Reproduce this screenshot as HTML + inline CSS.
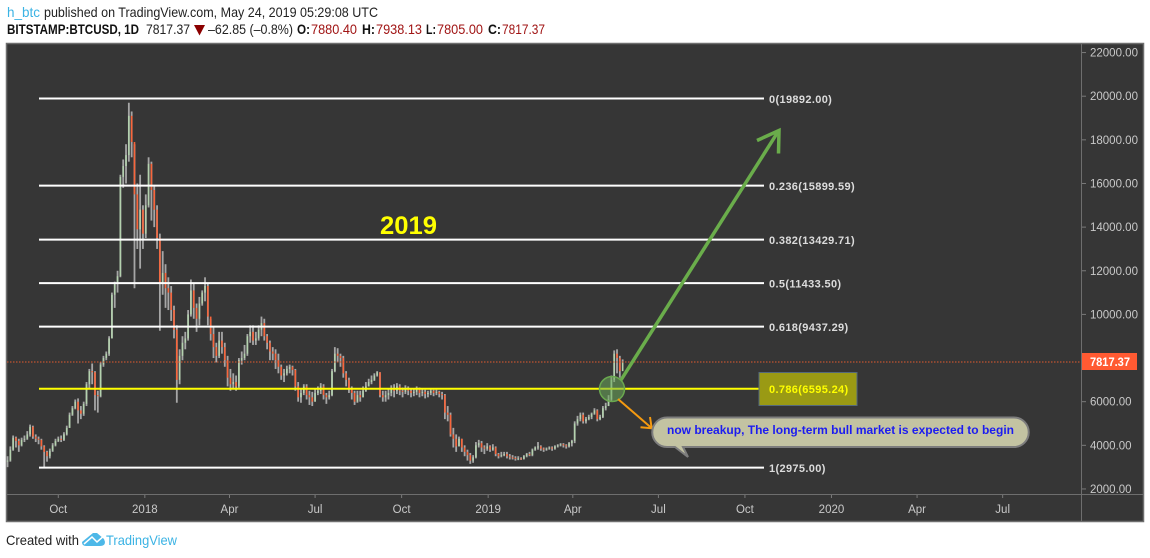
<!DOCTYPE html>
<html lang="en">
<head>
<meta charset="utf-8">
<title>BTCUSD chart</title>
<style>
html,body{margin:0;padding:0;background:#fff;width:1150px;height:558px;overflow:hidden}
svg{display:block;font-family:"Liberation Sans",sans-serif}
</style>
</head>
<body>
<svg id="chart" xmlns="http://www.w3.org/2000/svg" width="1150" height="558" viewBox="0 0 1150 558">
  <defs>
    <filter id="soft" x="-5%" y="-5%" width="110%" height="110%"><feGaussianBlur stdDeviation="0.35"/></filter>
  </defs>
  <text x="7" y="17" font-size="14" fill="#3bb3e4" textLength="33" lengthAdjust="spacingAndGlyphs">h_btc</text>
  <text x="44" y="17" font-size="14" fill="#222" textLength="334" lengthAdjust="spacingAndGlyphs">published on TradingView.com, May 24, 2019 05:29:08 UTC</text>
  <text x="7" y="34" font-size="13.5" font-weight="bold" fill="#111" textLength="132" lengthAdjust="spacingAndGlyphs">BITSTAMP:BTCUSD, 1D</text>
  <text x="146" y="34" font-size="14" fill="#222" textLength="44" lengthAdjust="spacingAndGlyphs">7817.37</text>
  <polygon points="194,25 205,25 199.5,35.500" fill="#8b0000"/>
  <text x="208" y="34" font-size="14" fill="#222" textLength="85" lengthAdjust="spacingAndGlyphs">–62.85 (–0.8%)</text>
  <text x="297" y="34" font-size="13.5" font-weight="bold" fill="#111" textLength="13" lengthAdjust="spacingAndGlyphs">O:</text>
  <text x="311" y="34" font-size="14" fill="#a01414" textLength="46" lengthAdjust="spacingAndGlyphs">7880.40</text>
  <text x="362" y="34" font-size="13.5" font-weight="bold" fill="#111" textLength="13" lengthAdjust="spacingAndGlyphs">H:</text>
  <text x="376" y="34" font-size="14" fill="#a01414" textLength="46" lengthAdjust="spacingAndGlyphs">7938.13</text>
  <text x="426" y="34" font-size="13.5" font-weight="bold" fill="#111" textLength="10" lengthAdjust="spacingAndGlyphs">L:</text>
  <text x="437" y="34" font-size="14" fill="#a01414" textLength="46" lengthAdjust="spacingAndGlyphs">7805.00</text>
  <text x="488" y="34" font-size="13.5" font-weight="bold" fill="#111" textLength="13" lengthAdjust="spacingAndGlyphs">C:</text>
  <text x="502" y="34" font-size="14" fill="#a01414" textLength="43" lengthAdjust="spacingAndGlyphs">7817.37</text>

  <rect x="6.500" y="43.500" width="1137" height="478" fill="#363636" stroke="#6e6e6e" stroke-width="1.500"/>
  <line x1="1081.500" y1="44" x2="1081.500" y2="521" stroke="#6e6e6e" stroke-width="1"/>
  <line x1="7" y1="494.500" x2="1143" y2="494.500" stroke="#6e6e6e" stroke-width="1"/>

  <g id="axes"></g>
  <g id="candles" filter="url(#soft)"></g>
  <line id="lastLine" x1="7" x2="1081" stroke="#e2592f" stroke-width="1" stroke-dasharray="1.500 1.500"/>
  <g id="fibs"></g>

  <rect x="759" y="372.500" width="98" height="33" fill="#9a9a14" stroke="#54697c" stroke-width="1"/>
  <g id="fibLabels"></g>

  <text x="380" y="234" font-size="25" font-weight="bold" fill="#ffff00" textLength="57" lengthAdjust="spacingAndGlyphs">2019</text>

  <g fill="none" stroke="#6aad4b" stroke-width="3.500">
    <line x1="621" y1="380" x2="778.500" y2="131"/>
    <polyline points="757,140.500 779,130.500 778.500,153.500"/>
  </g>
  <circle cx="612" cy="389" r="12.500" fill="rgba(108,170,90,.55)" stroke="#6aa84f" stroke-width="1.500"/>
  <g fill="none" stroke="#f59a10" stroke-width="2">
    <line x1="618" y1="399" x2="651.500" y2="428"/>
    <polyline points="640.500,427.300 651.700,428.300 650,417"/>
  </g>
  <path d="M667 417.500 H1014 A14.750 14.750 0 0 1 1014 447 H683 L688 457 L675 447 H667 A14.750 14.750 0 0 1 667 417.500 Z" fill="#c3c3a2" stroke="#7d7d7d" stroke-width="2"/>
  <text x="667" y="434" font-size="12" font-weight="bold" fill="#1c1cf0" textLength="347" lengthAdjust="spacingAndGlyphs">now breakup, The long-term bull market is expected to begin</text>

  <rect id="lastTag" x="1082" y="353" width="55" height="17" fill="#ff5a32"/>
  <text id="lastTagText" x="1090" y="366" font-size="12" font-weight="bold" fill="#fff" textLength="40" lengthAdjust="spacingAndGlyphs">7817.37</text>

  <text x="6" y="545" font-size="14" fill="#222" textLength="73" lengthAdjust="spacingAndGlyphs">Created with</text>
  <path d="M82 542 L93 533 L97 533 L104 539 L105 542 Q105 546 100 546 L86 546 Q82 546 82 542 Z" fill="#4db8e8"/>
  <polyline points="84,544 92,537 97,542 105,535" fill="none" stroke="#fff" stroke-width="1.500"/>
  <text x="106" y="545" font-size="14" fill="#3bb3e4" textLength="71" lengthAdjust="spacingAndGlyphs">TradingView</text>
</svg>
<script>
var priceTicks = [22000,20000,18000,16000,14000,12000,10000,8000,6000,4000,2000];
var priceTickLabels = ["22000.00","20000.00","18000.00","16000.00","14000.00","12000.00","10000.00","8000.00","6000.00","4000.00","2000.00"];
var timeTickDays = [0,92,182,273,365,457,547,638,730,822,913,1004];
var timeTickLabels = ["Oct","2018","Apr","Jul","Oct","2019","Apr","Jul","Oct","2020","Apr","Jul"];
var fibRatios = ["0","0.236","0.382","0.5","0.618","0.786","1"];
var fibPrices = [19892.00,15899.59,13429.71,11433.50,9437.29,6595.24,2975.00];
var lastPrice = 7817.37;
var firstBarDay = -54;
var barStepDays = 3;
var firstOpen = 3250;
var closes = [
3300,3800,4350,4200,4000,4250,4300,4500,4850,4400,
4300,4250,3950,3700,3500,3750,4000,4200,4300,4250,
4500,4800,5400,5700,6000,5600,5450,5900,6800,7400,
7350,6300,6250,7700,8000,8200,8900,10900,11400,11750,
16300,16800,17300,19100,17900,15500,13900,14800,13700,15000,
16900,15700,14800,13500,11400,11900,11200,11000,10200,9300,
7000,8100,8700,8900,10000,11100,10300,9800,10500,11000,
11300,9900,9100,8500,8100,8800,8500,7900,7100,6800,
6900,6700,7900,8000,8200,9000,9200,8800,8900,9300,
9600,9000,8700,8300,8200,7900,7600,7200,7300,7500,
7600,7450,6700,6200,6400,6700,6300,6200,6000,6400,
6500,6700,6300,6200,6300,7400,8200,8100,8000,7300,
7000,6600,6400,6000,6300,6200,6500,6700,6900,7000,
7200,7350,6300,6200,6300,6400,6600,6500,6700,6500,
6450,6600,6500,6400,6450,6550,6400,6450,6350,6400,
6500,6400,6450,6350,6300,5500,5400,4500,4300,3950,
4300,3900,3700,3550,3300,3450,4000,4100,3900,3850,
3950,3800,3900,3600,3500,3550,3600,3500,3450,3420,
3380,3400,3380,3500,3600,3550,3800,3900,3950,3850,
3800,3850,3900,3850,3950,4000,4050,4000,3950,4100,
4200,5000,5200,5400,5100,5200,5300,5450,5600,5200,
5300,5700,5800,6100,7000,8200,8000,7400,7817.37];
var highs = [
3500,3950,4450,4400,4300,4350,4450,4650,4950,4900,
4500,4400,4300,4000,3750,3850,4100,4300,4400,4450,
4600,4900,5500,5800,6100,6150,5800,6000,6900,7500,
7750,7400,6500,7800,8100,8300,9000,11000,11500,12000,
16400,17100,17800,19700,19300,17800,16000,16400,15000,15500,
17200,17000,15900,15000,13700,12900,12300,11700,11300,10400,
9500,8400,9000,9200,10200,11600,11400,10500,10800,11100,
11700,11400,9800,9400,8700,9200,9200,8700,8100,7500,
7300,7200,8000,8300,8600,9100,9500,9500,9200,9500,
9900,9800,9100,8800,8500,8400,8200,7700,7500,7650,
7700,7650,7500,6900,6600,6800,6800,6500,6450,6600,
6700,6850,6800,6400,6500,7500,8500,8450,8200,8100,
7400,7100,6700,6500,6500,6500,6700,6900,7050,7200,
7300,7400,7350,6500,6500,6600,6750,6800,6850,6800,
6650,6750,6700,6600,6600,6700,6650,6600,6550,6500,
6600,6550,6550,6500,6450,6350,5800,5500,4800,4500,
4400,4300,4000,3800,3650,3550,4150,4250,4200,4000,
4100,4000,4050,3950,3650,3700,3700,3700,3600,3550,
3500,3500,3450,3550,3650,3700,3850,3950,4150,4000,
3900,3900,3950,3950,4000,4050,4100,4100,4050,4150,
4250,5100,5350,5500,5500,5300,5400,5500,5700,5650,
5400,5800,5950,6300,7200,8350,8400,8100,7938.13];
var lows = [
3000,3250,3750,3900,3700,3950,4150,4250,4400,4300,
4150,4050,3800,2980,3250,3400,3700,3950,4150,4150,
4200,4450,4800,5350,5650,5000,5200,5350,5800,6600,
6800,5600,5500,6200,7600,7900,8100,8900,10300,11000,
11700,15800,16000,17000,17200,11200,13000,12100,13000,13500,
14900,14300,14000,13000,9250,10900,10300,10200,9700,8900,
5950,6800,7900,8400,8800,9900,9800,9200,9500,10400,
10600,9500,8800,8000,7800,8000,8200,7600,6700,6500,
6600,6500,6600,7700,7900,8100,8700,8600,8600,8800,
9000,8800,8400,7900,7900,7500,7300,7000,6900,7200,
7300,7200,6500,6000,5950,6300,6100,5850,5800,6000,
6300,6350,6100,5900,6100,6250,7350,7800,7600,7100,
6700,6400,6100,5850,5950,6000,6200,6450,6700,6800,
6950,7150,6200,6000,6000,6100,6250,6200,6350,6300,
6200,6350,6300,6200,6250,6300,6200,6250,6150,6200,
6300,6250,6300,6200,6100,5200,5100,4400,3900,3700,
3950,3700,3500,3300,3150,3200,3400,3900,3700,3600,
3750,3700,3750,3500,3400,3450,3500,3400,3350,3350,
3300,3320,3330,3350,3450,3500,3500,3750,3800,3750,
3700,3750,3800,3750,3800,3900,3950,3900,3850,3900,
3950,4100,4900,5100,5000,5000,5150,5200,5400,5100,
5150,5250,5600,5800,6000,6900,7300,7100,7805.00];

var NS = 'http://www.w3.org/2000/svg';
function yOf(p){ return 532.6 - p * 0.02182; }
function xOf(d){ return 58.3 + d * 0.9406; }
function mk(tag, parent, attrs){
  var el = document.createElementNS(NS, tag);
  for (var k in attrs) el.setAttribute(k, attrs[k]);
  parent.appendChild(el);
  return el;
}

var axes = document.getElementById('axes');
priceTicks.forEach(function(p, i){
  var y = yOf(p);
  var t = mk('line', axes, {x1:1082, x2:1086, y1:y, y2:y, stroke:'#7a7a7a', 'stroke-width':1});
  
  
  var l = mk('text', axes, {x:1090, y:y+4, 'font-size':11.5, fill:'#c9c9c9'});
  
  
  l.textContent = priceTickLabels[i];
});
timeTickDays.forEach(function(d, i){
  var x = xOf(d);
  var t = mk('line', axes, {x1:x, x2:x, y1:495, y2:498, stroke:'#7a7a7a', 'stroke-width':1});
  
  
  var l = mk('text', axes, {x:x, y:513, 'font-size':11.5, fill:'#c9c9c9', 'text-anchor':'middle'});
  
  
  l.textContent = timeTickLabels[i];
});

var candles = document.getElementById('candles');
closes.forEach(function(c, i){
  var o = i === 0 ? firstOpen : closes[i-1];
  var x = xOf(firstBarDay + i * barStepDays);
  var w = mk('line', candles, {x1:x, x2:x, y1:yOf(highs[i]), y2:yOf(lows[i]), stroke:'#a6a6a6', 'stroke-width':1.800});
  
  
  var top = Math.max(o, c), bot = Math.min(o, c);
  var b = mk('rect', candles, {x:x-0.8, y:yOf(top), width:1.600, height:Math.max(yOf(bot)-yOf(top), 1), fill: c >= o ? '#b4d2ae' : '#f9653a'});
  
  
});

var lastY = yOf(lastPrice);
var lastLine = document.getElementById('lastLine');
lastLine.setAttribute('y1', lastY);
lastLine.setAttribute('y2', lastY);

var fibs = document.getElementById('fibs');
var fibLabels = document.getElementById('fibLabels');
fibPrices.forEach(function(p, i){
  var y = yOf(p);
  var isKey = fibRatios[i] === '0.786';
  var ln = mk('line', fibs, {x1:39, x2:764, y1:y, y2:y, stroke: isKey ? '#ffff00' : '#ffffff', 'stroke-width':2});
  
  
  var lb = mk('text', fibLabels, {x:769, y:y+4.500, 'font-size':11, 'font-weight':'bold', 'letter-spacing':0.35, fill: isKey ? '#ffff00' : '#dcdcdc'});
  
  
  lb.textContent = fibRatios[i] + '(' + p.toFixed(2) + ')';
});
</script>
</body>
</html>
